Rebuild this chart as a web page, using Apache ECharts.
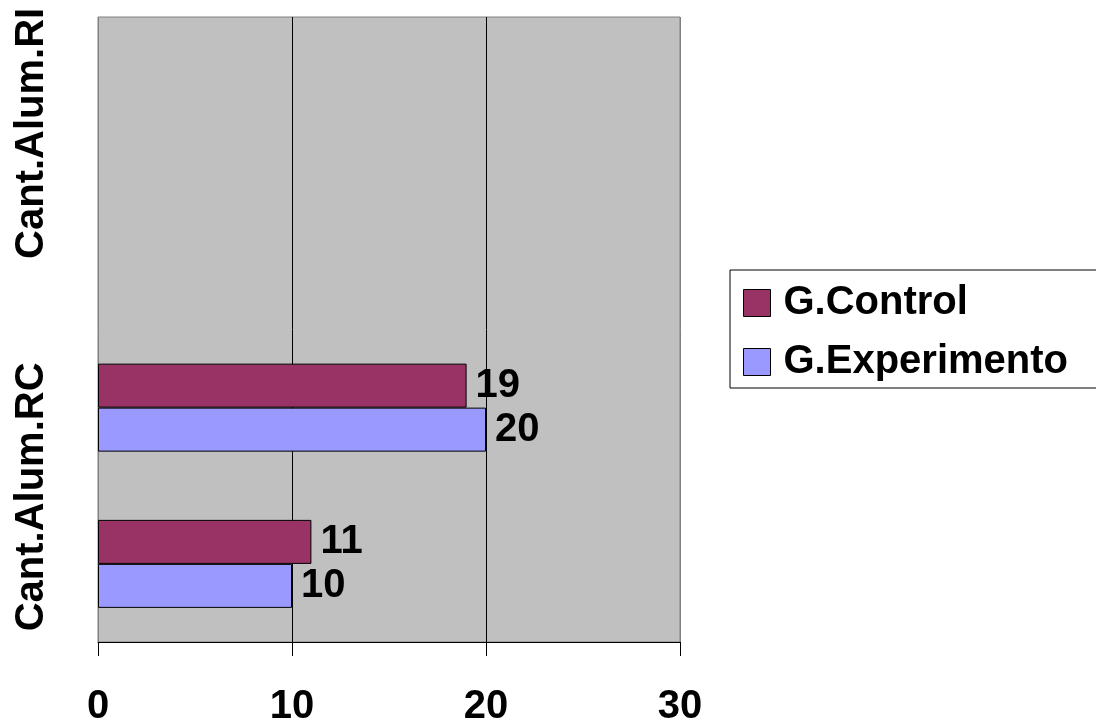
<!DOCTYPE html>
<html>
<head>
<meta charset="utf-8">
<script src="https://cdn.jsdelivr.net/npm/echarts@6/dist/echarts.min.js"></script>
<style>
html,body{margin:0;padding:0;background:#fff;}
#chart{width:1096px;height:726px;}
</style>
</head>
<body>
<div id="chart"></div>
<script>
// ---- data ----
const categories = ['Cant.Alum.RC', '', 'Cant.Alum.RI', ''];
const seriesNames = ['G.Control', 'G.Experimento'];
const controlValues = [11, 19, null, null];
const experimentoValues = [10, 20, null, null];
const xTicks = [0, 10, 20, 30];

// ---- styling (kept separate from data) ----
const FONT = "'Liberation Sans', Arial, sans-serif";
const labelPadding = [[0,0,0,134], [0,0,0,0], [0,0,0,236], [0,0,0,0]];

const chart = echarts.init(document.getElementById('chart'), null, {renderer: 'canvas'});
const option = {
  animation: false,
  textStyle: {fontFamily: FONT},
  grid: {
    left: 98, top: 17, width: 582, height: 625,
    show: true, backgroundColor: '#C0C0C0', borderColor: '#808080', borderWidth: 1,
    containLabel: false, outerBoundsMode: 'none'
  },
  legend: {
    orient: 'vertical',
    left: 730, top: 270,
    data: seriesNames,
    itemWidth: 27, itemHeight: 27, itemGap: 13,
    padding: [10, 40, 3, 13],
    borderColor: '#000', borderWidth: 1,
    icon: 'rect',
    itemStyle: {borderColor: '#000', borderWidth: 1},
    textStyle: {fontFamily: FONT, fontSize: 40, fontWeight: 'bold', color: '#000', lineHeight: 46, padding: [0,0,0,8]}
  },
  xAxis: {
    type: 'value',
    min: xTicks[0], max: xTicks[xTicks.length - 1], interval: xTicks[1] - xTicks[0],
    axisLine: {show: true, lineStyle: {color: '#000', width: 1}},
    axisTick: {show: true, inside: false, length: 14, lineStyle: {color: '#000', width: 1}},
    splitLine: {show: true, lineStyle: {color: ['#808080', '#000', '#000', '#808080'], width: 1}},
    axisLabel: {margin: 45, fontFamily: FONT, fontSize: 40, fontWeight: 'bold', color: '#000', lineHeight: 40}
  },
  yAxis: {
    type: 'category',
    data: categories.map((c, i) => ({value: c, textStyle: {padding: labelPadding[i]}})),
    axisLine: {show: false},
    axisTick: {show: false},
    splitLine: {show: false},
    axisLabel: {
      interval: 0, rotate: 90, margin: 46,
      fontFamily: FONT, fontSize: 40, fontWeight: 'bold', color: '#000', lineHeight: 40
    }
  },
  series: [
    {
      name: seriesNames[0], type: 'bar', data: controlValues,
      barWidth: 44, barGap: '0%',
      itemStyle: {color: '#993366', borderColor: '#000', borderWidth: 1},
      label: {show: true, position: 'right', distance: 9, fontFamily: FONT, fontSize: 40, fontWeight: 'bold', color: '#000'}
    },
    {
      name: seriesNames[1], type: 'bar', data: experimentoValues,
      barWidth: 44, barGap: '0%',
      itemStyle: {color: '#9999FF', borderColor: '#000', borderWidth: 1},
      label: {show: true, position: 'right', distance: 9, fontFamily: FONT, fontSize: 40, fontWeight: 'bold', color: '#000'}
    }
  ]
};
chart.setOption(option);
</script>
</body>
</html>
